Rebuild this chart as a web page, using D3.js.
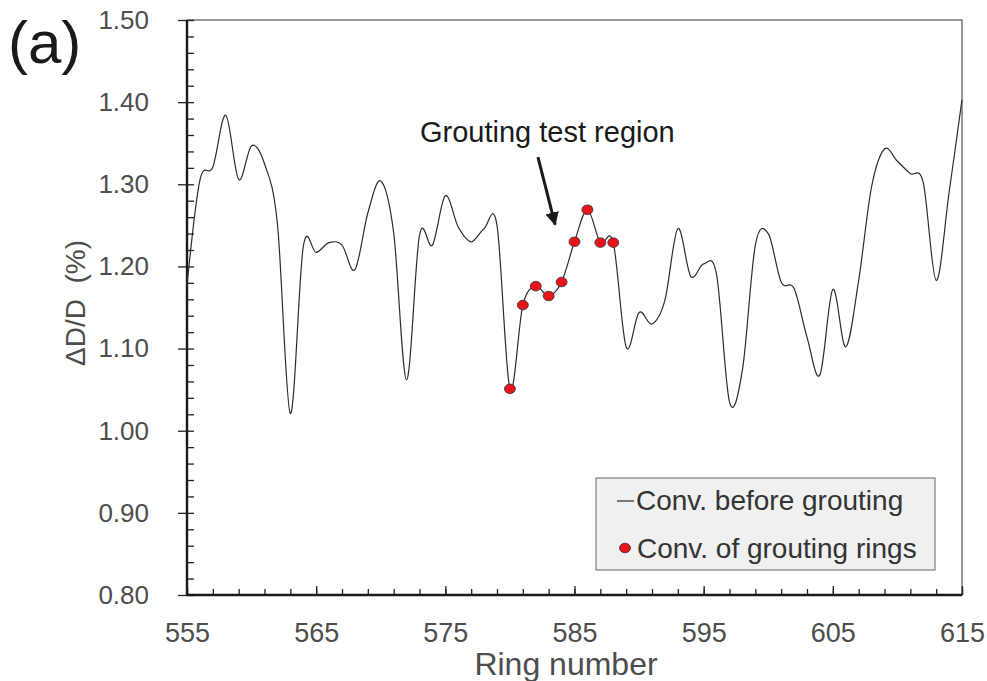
<!DOCTYPE html>
<html lang="en">

<head>
    <meta charset="UTF-8">
    <title>Convergence before grouting</title>
    <style>
        body {
            margin: 0;
            background-color: #fff;
            font-family: 'Liberation Sans', Arial, sans-serif;
        }

        .axis text {
            fill: #4d4d4d;
            font-family: 'Liberation Sans', Arial, sans-serif;
        }

        .axis path {
            display: none;
        }

        .axis line {
            stroke: #222;
            stroke-width: 1.3;
        }
    </style>
    <script src="https://d3js.org/d3.v7.min.js"></script>
</head>

<body>
    <svg id="chart" width="987" height="681"></svg>

    <script>
        // rings 555..615, convergence before grouting (%)
        const rings = d3.range(555, 616);
        const convBefore = [
            1.177, 1.305, 1.321, 1.384, 1.306, 1.347, 1.325, 1.252, 1.021, 1.224,
            1.217, 1.229, 1.226, 1.196, 1.265, 1.304, 1.241, 1.062, 1.238, 1.226,
            1.286, 1.248, 1.230, 1.246, 1.250, 1.051, 1.153, 1.176, 1.164, 1.181,
            1.230, 1.269, 1.229, 1.229, 1.102, 1.144, 1.130, 1.159, 1.246, 1.188,
            1.203, 1.190, 1.035, 1.074, 1.226, 1.240, 1.181, 1.173, 1.114, 1.068,
            1.172, 1.102, 1.183, 1.297, 1.343, 1.328, 1.313, 1.302, 1.183, 1.290,
            1.403
        ];

        // grouting rings 580..588
        const groutRings = d3.range(580, 589);
        const groutConv = [1.051, 1.153, 1.176, 1.164, 1.181, 1.230, 1.269, 1.229, 1.229];

        const xMajor = [555, 565, 575, 585, 595, 605, 615];
        const xMinor = d3.range(555, 616, 2);
        const yMajor = [0.8, 0.9, 1.0, 1.1, 1.2, 1.3, 1.4, 1.5];
        const yMinor = d3.range(0, 36).map(i => 0.8 + i * 0.02);

        const svg = d3.select("#chart");
        const margin = { top: 20, right: 25, bottom: 86, left: 187 };
        const width = 987 - margin.left - margin.right;
        const height = 681 - margin.top - margin.bottom;

        const x = d3.scaleLinear().domain([555, 615]).range([0, width]);
        const y = d3.scaleLinear().domain([0.8, 1.5]).range([height, 0]);

        const chart = svg.append("g")
            .attr("transform", `translate(${margin.left},${margin.top})`);

        // frame: light top/right, heavy left/bottom
        chart.append("rect")
            .attr("x", 0).attr("y", 0)
            .attr("width", width).attr("height", height)
            .attr("fill", "none")
            .attr("stroke", "#555")
            .attr("stroke-width", 1.2);

        // minor ticks (inside)
        chart.append("g")
            .attr("class", "axis")
            .call(d3.axisLeft(y).tickValues(yMinor).tickSizeInner(-7).tickSizeOuter(0).tickFormat(""));
        chart.append("g")
            .attr("class", "axis")
            .attr("transform", `translate(0,${height})`)
            .call(d3.axisBottom(x).tickValues(xMinor).tickSizeInner(-6).tickSizeOuter(0).tickFormat(""));

        // major ticks + labels
        chart.append("g")
            .attr("class", "axis")
            .call(d3.axisLeft(y).tickValues(yMajor).tickSizeInner(9).tickSizeOuter(0)
                .tickPadding(29).tickFormat(d3.format(".2f")))
            .selectAll("text")
            .style("font-size", "26px");

        chart.append("g")
            .attr("class", "axis")
            .attr("transform", `translate(0,${height})`)
            .call(d3.axisBottom(x).tickValues(xMajor).tickSizeInner(-9).tickSizeOuter(0).tickPadding(28))
            .selectAll("text")
            .style("font-size", "27px");

        // heavy axis lines
        chart.append("line")
            .attr("x1", 0).attr("x2", 0).attr("y1", 0).attr("y2", height)
            .attr("stroke", "#1a1a1a").attr("stroke-width", 2.4);
        chart.append("line")
            .attr("x1", 0).attr("x2", width).attr("y1", height).attr("y2", height)
            .attr("stroke", "#1a1a1a").attr("stroke-width", 2.4);

        // convergence line
        const line = d3.line()
            .x((d, i) => x(rings[i]))
            .y(d => y(d))
            .curve(d3.curveCardinal.tension(0));

        chart.append("path")
            .datum(convBefore)
            .attr("d", line)
            .attr("fill", "none")
            .attr("stroke", "#2b2b2b")
            .attr("stroke-width", 1.2);

        chart.selectAll(".grout")
            .data(groutConv)
            .enter()
            .append("ellipse")
            .attr("class", "grout")
            .attr("cx", (d, i) => x(groutRings[i]))
            .attr("cy", d => y(d))
            .attr("rx", 5.5)
            .attr("ry", 4.8)
            .attr("fill", "#e8141c")
            .attr("stroke", "#333")
            .attr("stroke-width", 0.8);

        // annotation
        chart.append("text")
            .attr("x", x(582.9))
            .attr("y", y(1.351))
            .attr("text-anchor", "middle")
            .style("font-size", "29px")
            .attr("fill", "#1a1a1a")
            .text("Grouting test region");

        svg.append("defs").append("marker")
            .attr("id", "head")
            .attr("viewBox", "0 0 10 10")
            .attr("refX", 9).attr("refY", 5)
            .attr("markerWidth", 4.5).attr("markerHeight", 4.5)
            .attr("markerUnits", "strokeWidth")
            .attr("orient", "auto")
            .append("path")
            .attr("d", "M0,0L10,5L0,10z")
            .attr("fill", "#1a1a1a");

        chart.append("line")
            .attr("x1", x(582.17)).attr("y1", y(1.333))
            .attr("x2", x(583.5)).attr("y2", y(1.251))
            .attr("stroke", "#1a1a1a")
            .attr("stroke-width", 3)
            .attr("marker-end", "url(#head)");

        // legend
        const legend = svg.append("g").attr("transform", "translate(596,478)");
        legend.append("rect")
            .attr("width", 339).attr("height", 92)
            .attr("fill", "#eff0ef")
            .attr("stroke", "#666")
            .attr("stroke-width", 1);
        legend.append("line")
            .attr("x1", 21).attr("x2", 38).attr("y1", 23).attr("y2", 23)
            .attr("stroke", "#2b2b2b").attr("stroke-width", 1.2);
        legend.append("text")
            .attr("x", 40).attr("y", 32)
            .style("font-size", "28px")
            .attr("fill", "#333")
            .text("Conv. before grouting");
        legend.append("ellipse")
            .attr("cx", 29).attr("cy", 70)
            .attr("rx", 5.5).attr("ry", 4.8)
            .attr("fill", "#e8141c").attr("stroke", "#333").attr("stroke-width", 0.8);
        legend.append("text")
            .attr("x", 41).attr("y", 80)
            .style("font-size", "28px")
            .attr("fill", "#333")
            .text("Conv. of grouting rings");

        // axis titles
        svg.append("text")
            .attr("x", 566)
            .attr("y", 675)
            .attr("text-anchor", "middle")
            .style("font-size", "32px")
            .attr("fill", "#4d4d4d")
            .text("Ring number");

        svg.append("text")
            .attr("transform", "translate(85,303) rotate(-90)")
            .attr("text-anchor", "middle")
            .style("font-size", "28px")
            .attr("fill", "#4d4d4d")
            .attr("xml:space", "preserve")
            .text("ΔD/D  (%)");

        svg.append("text")
            .attr("x", 8)
            .attr("y", 63)
            .style("font-size", "60px")
            .attr("fill", "#1a1a1a")
            .text("(a)");
    </script>
</body>

</html>
